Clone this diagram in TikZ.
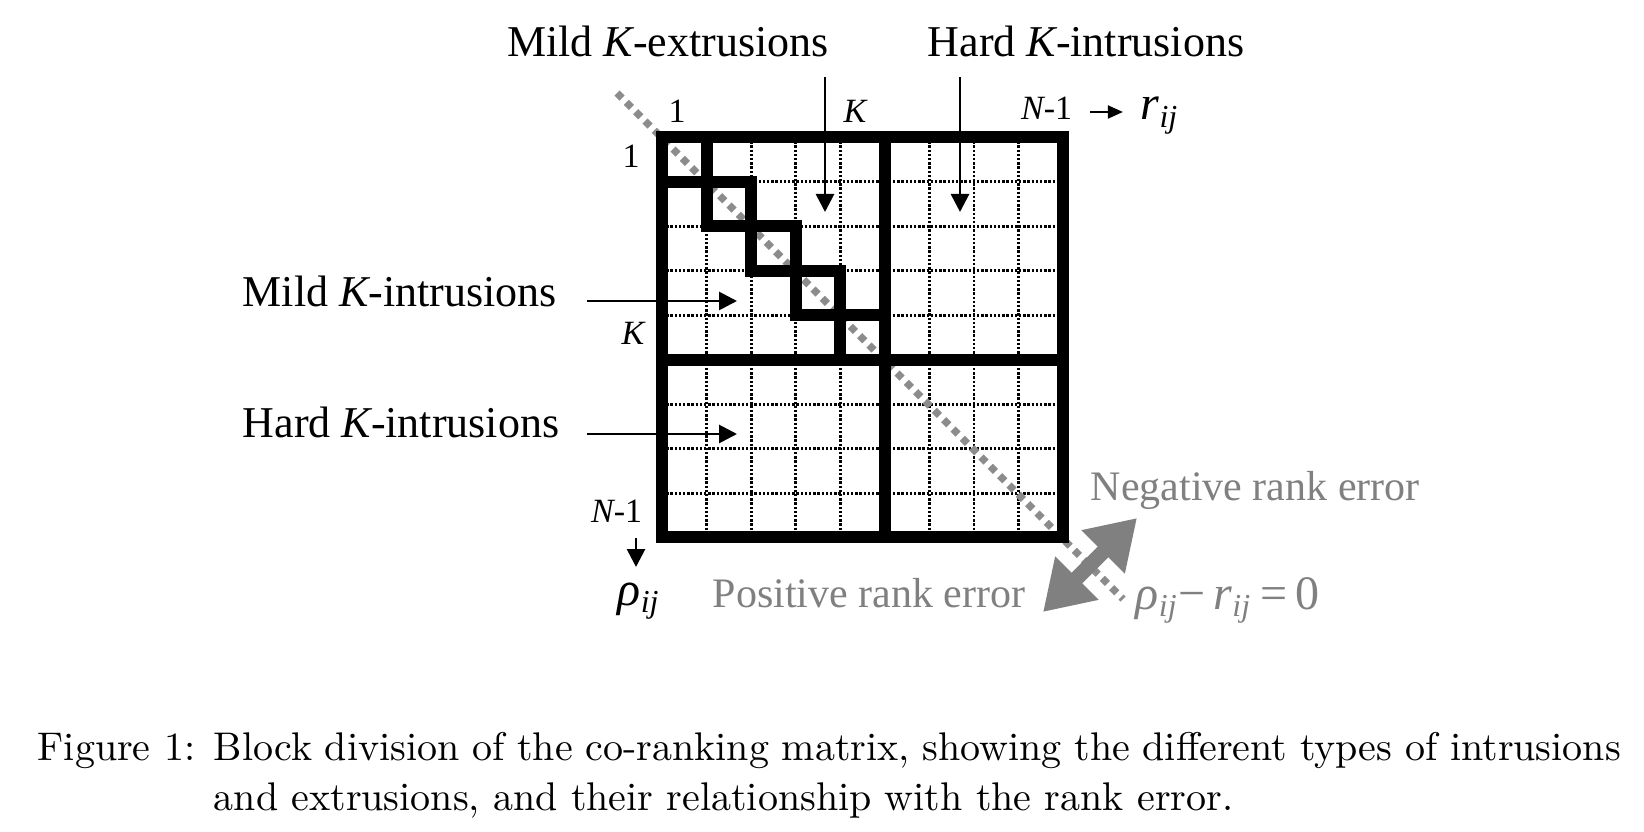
\documentclass[tikz,border=0pt]{standalone}
\usepackage{fontspec}
\newfontfamily\tnr{Liberation Serif}
\usetikzlibrary{arrows.meta}
\definecolor{mgray}{RGB}{128,128,128}
\definecolor{dgray}{RGB}{140,140,140}
\begin{document}
\begin{tikzpicture}[x=0.25pt,y=-0.25pt,
  lab/.style={font=\tnr\fontsize{11}{13}\selectfont, inner sep=0pt, anchor=base},
  small/.style={font=\tnr\fontsize{8.5}{10}\selectfont, inner sep=0pt, anchor=base},
  big/.style={font=\tnr\fontsize{12}{14}\selectfont, inner sep=0pt, anchor=base west},
  err/.style={font=\tnr\fontsize{10.5}{12}\selectfont, text=mgray, inner sep=0pt, anchor=base west},
  griddot/.style={line width=0.7pt, dash pattern=on 0.6pt off 0.45pt},
  thickl/.style={line width=3pt},
  diagdot/.style={draw=dgray, line width=1.8pt, dash pattern=on 1.8pt off 1.5pt},
  blkarrow/.style={line width=0.7pt, -{Triangle[length=4.5pt,width=4.5pt]}},
  smallarrow/.style={line width=0.7pt, -{Triangle[length=3.8pt,width=3.2pt]}},
  garrow/.style={draw=mgray, line width=3.75pt, {Triangle[length=12pt,width=14.5pt]}-{Triangle[length=12pt,width=14.5pt]}},
  capt/.style={font=\fontsize{10}{12.5}\selectfont, inner sep=0pt, anchor=base west}]
\useasboundingbox (0,0) rectangle (1644,832);
% dotted grid
\foreach \i in {1,2,3,4,6,7,8} {
  \draw[griddot] ({662+\i*44.556},137) -- ({662+\i*44.556},537);
  \draw[griddot] (662,{137+\i*44.556}) -- (1063,{137+\i*44.556});
}
% gray diagonal rho - r = 0
\coordinate (d1) at (617,93);
\coordinate (d2) at (1123,599);
\draw[diagdot] (d1) -- (d2);
% thick blocks
\draw[thickl] (662,137) rectangle (1063,537);
\draw[thickl] (884.8,137) -- (884.8,537);
\draw[thickl] (662,359.8) -- (1063,359.8);
\foreach \k in {0,...,4} {
  \draw[thickl] ({662+\k*44.556},{137+\k*44.556}) rectangle ++(44.556,44.556);
}
% top labels
\node[lab] (mke) at (668,57) {Mild {\itshape K}-extrusions};
\node[lab] (hki) at (1086,57) {Hard {\itshape K}-intrusions};
\coordinate (mkes) at (825,77);
\coordinate (mket) at (825,212);
\coordinate (hkis) at (960,77);
\coordinate (hkit) at (960,212);
\draw[blkarrow] (mkes) -- (mket);
\draw[blkarrow] (hkis) -- (hkit);
\node[small] (t1) at (677,123) {1};
\node[small] (tK) at (855,123) {\itshape K};
\node[small, anchor=base east] (tN) at (1073,120) {{\itshape N}-1};
\node[big] (r) at (1140,120) {\itshape r\textsubscript{ij}};
\coordinate (ra1) at (1090,112);
\coordinate (ra2) at (1123,112);
\draw[smallarrow] (ra1) -- (ra2);
% left labels
\node[small] (l1) at (631,168) {1};
\node[small] (lK) at (633,345) {\itshape K};
\node[small, anchor=base east] (lN) at (643,523) {{\itshape N}-1};
\coordinate (da1) at (636,538);
\coordinate (da2) at (636,567);
\draw[blkarrow] (da1) -- (da2);
\node[big] (rho) at (617,605) {\itshape ρ\textsubscript{ij}};
\node[lab, anchor=base west] (mki) at (242,307) {Mild {\itshape K}-intrusions};
\node[lab, anchor=base west] (hki2) at (242,438) {Hard {\itshape K}-intrusions};
\coordinate (mkis) at (587,301);
\coordinate (mkit) at (737,301);
\coordinate (hki2s) at (587,434);
\coordinate (hki2t) at (737,434);
\draw[blkarrow] (mkis) -- (mkit);
\draw[blkarrow] (hki2s) -- (hki2t);
% rank error
\node[err] (neg) at (1090,500) {Negative rank error};
\node[err] (pos) at (712,607) {Positive rank error};
\node[big, text=mgray] (zero) at (1135,609) {{\itshape ρ\textsubscript{ij}}−\,{\itshape r\textsubscript{ij}}\,=\,0};
\coordinate (pe) at (1043,612);
\coordinate (ne) at (1137,518);
\draw[garrow] (pe) -- (ne);
% caption
\node[capt] (figlab) at (37,760) {Figure 1:};
\node[capt] (captxt) at (213,760) {\parbox[t]{351.75pt}{Block division of the co-ranking matrix, showing the different types of intrusions\linebreak and extrusions, and their relationship with the rank error.}};
\end{tikzpicture}
\end{document}
